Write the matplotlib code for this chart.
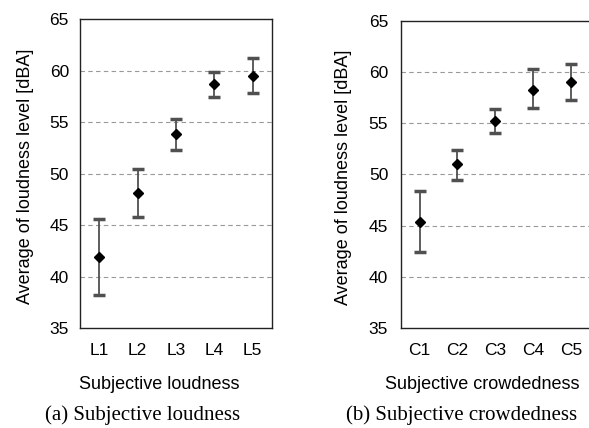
import matplotlib
matplotlib.use("Agg")
import matplotlib.pyplot as plt
import numpy as np

# ── Data ─────────────────────────────────────────────────────────────────────
loud_labels = ["L1", "L2", "L3", "L4", "L5"]
loud_mean   = [41.9, 48.1, 53.8, 58.7, 59.5]
loud_upper  = [45.6, 50.4, 55.3, 59.9, 61.2]
loud_lower  = [38.2, 45.8, 52.3, 57.4, 57.8]

crowd_labels = ["C1", "C2", "C3", "C4", "C5"]
crowd_mean   = [45.4, 51.0, 55.2, 58.3, 59.0]
crowd_upper  = [48.4, 52.4, 56.4, 60.3, 60.8]
crowd_lower  = [42.4, 49.5, 54.1, 56.5, 57.3]

yticks = [35, 40, 45, 50, 55, 60, 65]

SANS  = "Liberation Sans"
SERIF = "Liberation Serif"
TICK_FS, LABEL_FS, CAP_FS = 12.5, 13, 15

fig = plt.figure(figsize=(5.89, 4.28), dpi=100)


def panel(rect, labels, mean, upper, lower, xlabel, ypad, xlab_x, ylab_x):
    ax = fig.add_axes(rect)
    x = np.arange(len(labels))
    mean = np.array(mean)
    yerr = [mean - np.array(lower), np.array(upper) - mean]
    ax.errorbar(x, mean, yerr=yerr, fmt="D", color="black", markersize=5,
                ecolor="#505050", elinewidth=1.3, capsize=4, capthick=2.5,
                zorder=3)
    ax.set_xlim(-0.5, len(labels) - 0.5)
    ax.set_ylim(35, 65)
    ax.set_yticks(yticks)
    ax.set_xticks(x)
    ax.set_xticklabels(labels, fontfamily=SANS, fontsize=TICK_FS)
    ax.set_yticklabels([str(t) for t in yticks], fontfamily=SANS,
                       fontsize=TICK_FS)
    ax.tick_params(axis="both", length=0)
    ax.tick_params(axis="y", pad=ypad)
    ax.tick_params(axis="x", pad=11)
    for t in [40, 45, 50, 55, 60]:
        ax.axhline(t, color="#999999", linestyle=(0, (4, 3)), linewidth=0.8,
                   zorder=1)
    for s in ax.spines.values():
        s.set_color("#222222")
        s.set_linewidth(1.0)
    ax.set_ylabel("Average of loudness level [dBA]", fontfamily=SANS,
                  fontsize=LABEL_FS)
    ax.set_xlabel(xlabel, fontfamily=SANS, fontsize=LABEL_FS)
    ax.xaxis.set_label_coords(xlab_x, -0.155)
    ax.yaxis.set_label_coords(ylab_x, 0.49)
    return ax


panel([0.1358, 0.2336, 0.326, 0.722], loud_labels, loud_mean, loud_upper,
      loud_lower, "Subjective loudness", 8, 0.414, -0.2375)
panel([0.6803, 0.2336, 0.321, 0.7175], crowd_labels, crowd_mean, crowd_upper,
      crowd_lower, "Subjective crowdedness", 9, 0.429, -0.257)

fig.text(0.242, 0.0304, "(a) Subjective loudness", fontfamily=SERIF,
         fontsize=CAP_FS, ha="center", va="center")
fig.text(0.783, 0.0304, "(b) Subjective crowdedness", fontfamily=SERIF,
         fontsize=CAP_FS, ha="center", va="center")

fig.savefig("out.png", dpi=100)
